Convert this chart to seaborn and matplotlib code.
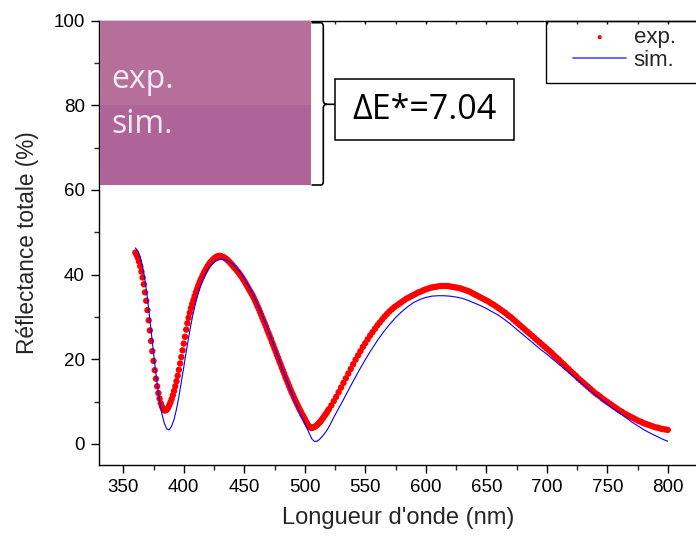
import numpy as np
import pandas as pd
import matplotlib
matplotlib.use("Agg")
import matplotlib.pyplot as plt
import seaborn as sns
from matplotlib.patches import Rectangle, PathPatch
from matplotlib.path import Path
from matplotlib.lines import Line2D
from matplotlib.ticker import MultipleLocator

# ---------------- data ----------------
wl_exp = list(range(360, 521)) + list(range(522, 801, 2))
refl_exp = [
    45.2, 44.7, 44.0, 43.1, 42.0, 40.7, 39.3, 37.7, 35.8, 33.8,   # 360-369
    31.6, 29.2, 26.8, 24.3, 21.9, 19.6, 17.4, 15.4, 13.6, 12.0,   # 370-379
    10.7, 9.6, 8.8, 8.2, 7.9, 7.9, 8.1, 8.5, 9.1, 9.8,            # 380-389
    10.6, 11.5, 12.5, 13.6, 14.8, 16.1, 17.5, 19.0, 20.5, 22.1,   # 390-399
    23.7, 25.3, 27.0, 28.5, 29.8, 31.0, 32.1, 33.1, 34.0, 34.9,   # 400-409
    35.8, 36.6, 37.4, 38.1, 38.8, 39.4, 40.0, 40.6, 41.1, 41.6,   # 410-419
    42.1, 42.5, 42.9, 43.2, 43.5, 43.8, 44.0, 44.2, 44.3, 44.4,   # 420-429
    44.4, 44.3, 44.2, 44.1, 43.9, 43.7, 43.5, 43.2, 42.9, 42.6,   # 430-439
    42.3, 41.9, 41.6, 41.3, 40.9, 40.6, 40.2, 39.8, 39.4, 38.9,   # 440-449
    38.5, 38.0, 37.5, 37.0, 36.5, 36.0, 35.5, 35.0, 34.4, 33.8,   # 450-459
    33.2, 32.5, 31.9, 31.2, 30.5, 29.8, 29.1, 28.4, 27.7, 26.9,   # 460-469
    26.2, 25.5, 24.8, 24.0, 23.3, 22.5, 21.8, 21.0, 20.3, 19.5,   # 470-479
    18.8, 18.0, 17.3, 16.6, 15.8, 15.1, 14.4, 13.7, 13.0, 12.3,   # 480-489
    11.7, 11.0, 10.4, 9.8, 9.2, 8.6, 8.0, 7.5, 6.9, 6.4,          # 490-499
    5.9, 5.3, 4.8, 4.3, 4.0, 3.8, 3.8, 3.9, 4.0, 4.2,             # 500-509
    4.4, 4.7, 5.0, 5.3, 5.7, 6.1, 6.5, 6.9, 7.3, 7.8,             # 510-519
    8.2,                                                          # 520
    9.1, 10.1, 11.1, 12.2, 13.3, 14.4, 15.5, 16.6, 17.7, 18.8,    # 522-540
    19.9, 20.9, 21.9, 22.9, 23.8, 24.7, 25.6, 26.4, 27.2, 28.0,   # 542-560
    28.7, 29.4, 30.1, 30.7, 31.3, 31.8, 32.3, 32.7, 33.1, 33.5,   # 562-580
    33.9, 34.3, 34.6, 34.9, 35.2, 35.5, 35.8, 36.0, 36.3, 36.5,   # 582-600
    36.7, 36.9, 37.0, 37.1, 37.2, 37.3, 37.3, 37.3, 37.3, 37.2,   # 602-620
    37.1, 37.0, 36.9, 36.8, 36.6, 36.4, 36.2, 36.0, 35.7, 35.4,   # 622-640
    35.1, 34.8, 34.5, 34.2, 33.9, 33.6, 33.2, 32.9, 32.5, 32.1,   # 642-660
    31.7, 31.3, 30.9, 30.4, 30.0, 29.5, 29.0, 28.5, 28.0, 27.5,   # 662-680
    27.0, 26.5, 26.0, 25.5, 25.0, 24.5, 24.0, 23.5, 23.0, 22.5,   # 682-700
    22.0, 21.5, 20.9, 20.4, 19.9, 19.3, 18.8, 18.2, 17.7, 17.1,   # 702-720
    16.6, 16.1, 15.5, 15.0, 14.5, 14.0, 13.5, 13.0, 12.5, 12.0,   # 722-740
    11.6, 11.2, 10.7, 10.3, 9.9, 9.5, 9.1, 8.7, 8.3, 7.9,         # 742-760
    7.6, 7.2, 6.9, 6.6, 6.3, 6.0, 5.7, 5.4, 5.2, 4.9,             # 762-780
    4.7, 4.5, 4.3, 4.1, 3.9, 3.8, 3.6, 3.5, 3.4, 3.3,             # 782-800
]

wl_sim = list(range(360, 521, 2)) + list(range(525, 801, 5))
refl_sim = [
    46.3, 45.6, 44.2, 41.9, 38.6, 34.4, 29.4, 24.2, 19.0, 14.3,   # 360-378
    10.2, 7.0, 4.8, 3.5, 3.3, 4.2, 5.8, 8.2, 11.2, 14.6,          # 380-398
    18.1, 21.7, 25.1, 28.3, 31.1, 33.5, 35.6, 37.4, 38.9, 40.2,   # 400-418
    41.2, 42.0, 42.6, 43.1, 43.4, 43.6, 43.6, 43.5, 43.3, 43.0,   # 420-438
    42.6, 42.1, 41.5, 40.8, 40.0, 39.1, 38.1, 37.1, 36.0, 34.8,   # 440-458
    33.6, 32.3, 31.0, 29.6, 28.2, 26.7, 25.2, 23.7, 22.1, 20.5,   # 460-478
    18.9, 17.3, 15.8, 14.3, 12.8, 11.4, 10.0, 8.6, 7.3, 6.0,      # 480-498
    4.8, 3.6, 2.3, 1.1, 0.6, 0.6, 1.0, 1.6, 2.3, 3.1,             # 500-518
    4.0,                                                          # 520
    6.8, 9.4, 12.1, 14.8, 17.4, 19.9, 22.2, 24.4, 26.4, 28.2,     # 525-570
    29.8, 31.2, 32.4, 33.4, 34.1, 34.6, 34.9, 35.0, 35.0, 34.9,   # 575-620
    34.7, 34.4, 33.9, 33.3, 32.7, 32.0, 31.2, 30.4, 29.4, 28.3,   # 625-670
    27.1, 25.9, 24.7, 23.5, 22.3, 21.2, 20.0, 18.8, 17.6, 16.4,   # 675-720
    15.2, 14.0, 12.8, 11.6, 10.5, 9.4, 8.3, 7.3, 6.3, 5.2,        # 725-770
    4.3, 3.4, 2.6, 1.9, 1.2, 0.6,                                 # 775-800
]

series_labels = ["exp.", "sim."]
x_ticks = [350, 400, 450, 500, 550, 600, 650, 700, 750, 800]
y_ticks = [0, 20, 40, 60, 80, 100]
delta_e_text = "\u0394E*=7.04"
x_label = "Longueur d'onde (nm)"
y_label = "R\u00e9flectance totale (%)"

df_exp = pd.DataFrame({"wl": wl_exp, "R": refl_exp})
df_sim = pd.DataFrame({"wl": wl_sim, "R": refl_sim})

# ---------------- style ----------------
sns.set_style("ticks")
plt.rcParams["font.family"] = ["Liberation Sans", "DejaVu Sans"]

W, H = 696, 541
fig = plt.figure(figsize=(W / 100, H / 100), dpi=100)

def fx(x):
    return x / W

def fy(y):
    return 1 - y / H

ax_l, ax_r, ax_t, ax_b = 99.3, 698.0, 20.7, 465.0
ax = fig.add_axes([fx(ax_l), fy(ax_b), fx(ax_r - ax_l), (ax_b - ax_t) / H])

sns.scatterplot(data=df_exp, x="wl", y="R", ax=ax, color="#ff0000", s=21,
                linewidth=0, edgecolor="none", label=series_labels[0], zorder=3)
sns.lineplot(data=df_sim, x="wl", y="R", ax=ax, color="#0000ff", lw=0.8,
             label=series_labels[1], zorder=4)

ax.set_xlim(330.2, 825.0)
ax.set_ylim(-5, 100)
ax.set_xticks(x_ticks)
ax.set_yticks(y_ticks)
ax.xaxis.set_minor_locator(MultipleLocator(25))
ax.yaxis.set_minor_locator(MultipleLocator(10))

for s in ["left", "bottom", "top"]:
    ax.spines[s].set_linewidth(1.0)
    ax.spines[s].set_color("black")
ax.spines["right"].set_visible(False)

ax.tick_params(axis="both", which="major", direction="out", length=6, width=1.0,
               labelsize=13.5, colors="black", labelcolor="black")
ax.tick_params(axis="both", which="minor", direction="out", length=3.6, width=1.0)
ax.tick_params(axis="x", which="major", pad=4)
ax.tick_params(axis="y", which="major", pad=4.5)
ax.tick_params(axis="x", which="both", top=True, labeltop=False)
# top ticks point inward, small
for t in ax.xaxis.get_major_ticks() + ax.xaxis.get_minor_ticks():
    t.tick2line.set_marker(3)
    t.tick2line.set_markersize(2.5)

ax.set_xlabel(x_label, fontsize=17, labelpad=8)
ax.set_ylabel(y_label, fontsize=16.3, labelpad=10)
ax.grid(False)

# ---------------- legend ----------------
handles, labels = ax.get_legend_handles_labels()
if ax.get_legend() is not None:
    ax.get_legend().remove()
leg = fig.legend(handles, labels, loc="upper left",
                 bbox_to_anchor=(fx(573), fy(27)), bbox_transform=fig.transFigure,
                 frameon=False, fontsize=16, handlelength=2.4, handletextpad=0.33,
                 labelspacing=0.08, borderaxespad=0, borderpad=0, markerscale=0.65)
for lh in leg.legend_handles:
    if isinstance(lh, Line2D):
        lh.set_linewidth(1.3)
        lh.set_color("#5a5aff")
fig.patches.append(Rectangle((fx(546.3), fy(83.3)), fx(700 - 546.3), (83.3 - 20.7) / H,
                             transform=fig.transFigure, fill=False, edgecolor="black",
                             linewidth=1.0, zorder=10))

# ---------------- colour swatch ----------------
fig.patches.append(Rectangle((fx(99.8), fy(104.7)), fx(310.7 - 99.8), (104.7 - 21.2) / H,
                             transform=fig.transFigure, facecolor="#b56f9a",
                             edgecolor="none", zorder=1))
fig.patches.append(Rectangle((fx(99.8), fy(185.0)), fx(310.7 - 99.8), (185.0 - 104.7) / H,
                             transform=fig.transFigure, facecolor="#ae6499",
                             edgecolor="none", zorder=1))
fig.text(fx(111), fy(88), series_labels[0], family=["Open Sans", "DejaVu Sans"],
         fontsize=23, color="#f6ebf3", ha="left", va="baseline", zorder=2)
fig.text(fx(111), fy(133), series_labels[1], family=["Open Sans", "DejaVu Sans"],
         fontsize=23, color="#f6ebf3", ha="left", va="baseline", zorder=2)

# ---------------- brace ----------------
def px(x, y):
    return (fx(x), fy(y))

verts = [px(311.5, 22.7), px(320.5, 22.7), px(323.3, 22.7), px(323.3, 26.5),
         px(323.3, 100.5), px(323.3, 104.3), px(327, 104.3), px(335, 104.3),
         px(327, 104.3), px(323.3, 104.3), px(323.3, 108.0),
         px(323.3, 181.5), px(323.3, 185.0), px(320.5, 185.0), px(311.5, 185.0)]
codes = [Path.MOVETO, Path.LINETO, Path.CURVE3, Path.CURVE3,
         Path.LINETO, Path.CURVE3, Path.CURVE3, Path.LINETO,
         Path.MOVETO, Path.CURVE3, Path.CURVE3,
         Path.LINETO, Path.CURVE3, Path.CURVE3, Path.LINETO]
fig.patches.append(PathPatch(Path(verts, codes), transform=fig.transFigure,
                             fill=False, edgecolor="black", linewidth=1.2, zorder=5))

# ---------------- Delta E box ----------------
fig.patches.append(Rectangle((fx(335), fy(140)), fx(514 - 335), (140 - 79) / H,
                             transform=fig.transFigure, facecolor="white",
                             edgecolor="black", linewidth=1.1, zorder=5))
fig.text(fx(424.5), fy(110), delta_e_text, family=["Open Sans", "DejaVu Sans"],
         fontsize=24.5, color="black", ha="center", va="center", zorder=6)

fig.savefig("out.png", dpi=100)
